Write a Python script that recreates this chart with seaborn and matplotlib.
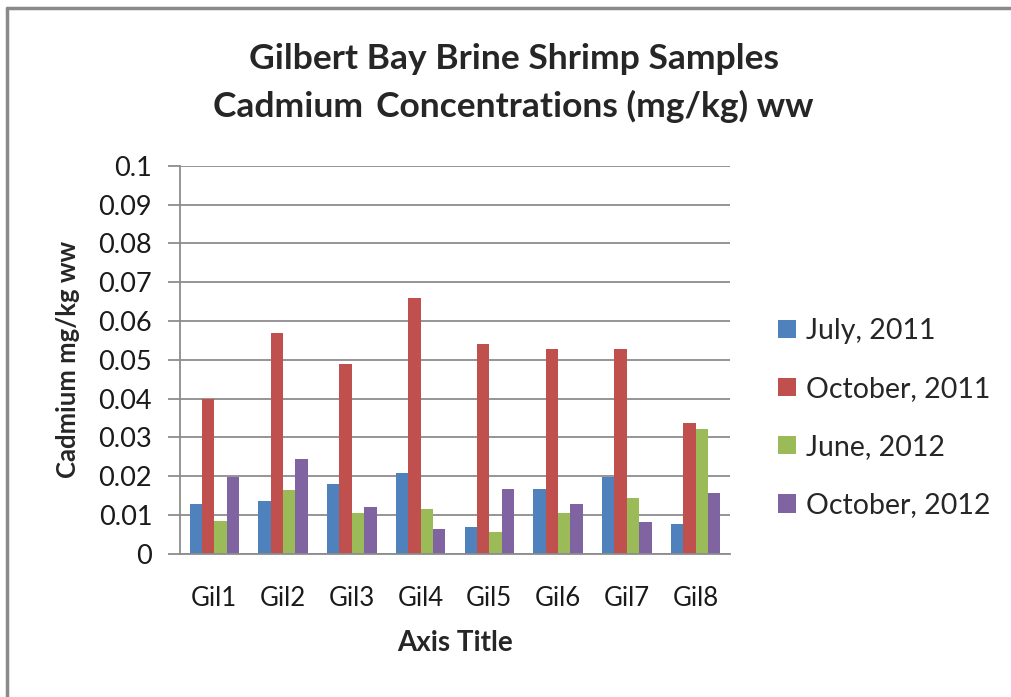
import numpy as np
import pandas as pd
import matplotlib
matplotlib.use('Agg')
import matplotlib.pyplot as plt
from matplotlib.lines import Line2D
import seaborn as sns

# ─── Data ────────────────────────────────────────────────────────────────
SITES = ['Gil1', 'Gil2', 'Gil3', 'Gil4', 'Gil5', 'Gil6', 'Gil7', 'Gil8']
SERIES = ['July, 2011', 'October, 2011', 'June, 2012', 'October, 2012']
july_2011 = [0.0128, 0.0137, 0.0180, 0.0208, 0.0069, 0.0168, 0.0199, 0.0077]
october_2011 = [0.0400, 0.0568, 0.0489, 0.0658, 0.0540, 0.0528, 0.0528, 0.0338]
june_2012 = [0.0085, 0.0165, 0.0105, 0.0117, 0.0057, 0.0105, 0.0144, 0.0323]
october_2012 = [0.0199, 0.0244, 0.0121, 0.0065, 0.0168, 0.0129, 0.0082, 0.0157]
Y_TICKS = [0, 0.01, 0.02, 0.03, 0.04, 0.05, 0.06, 0.07, 0.08, 0.09, 0.1]
COLORS = ['#4F81BD', '#C0504D', '#9BBB59', '#8064A2']

rows = []
for name, vals in zip(SERIES, [july_2011, october_2011, june_2012, october_2012]):
    for site, v in zip(SITES, vals):
        rows.append({'site': site, 'series': name, 'value': v})
df = pd.DataFrame(rows)

sns.set_style('white')
plt.rcParams['font.family'] = ['Lato', 'DejaVu Sans']

fig = plt.figure(figsize=(10.11, 6.97), dpi=100)
ax = fig.add_axes([0.178, 0.2052, 0.544, 0.5571])

sns.barplot(data=df, x='site', y='value', hue='series', hue_order=SERIES,
            order=SITES, palette=COLORS, width=0.72, saturation=1,
            linewidth=0, ax=ax, legend=True)

ax.set_ylim(0, 0.1)
ax.set_xlim(-0.5, len(SITES) - 0.5)
ax.set_yticks(Y_TICKS)
ax.set_yticklabels(['0' if t == 0 else f'{t:g}' for t in Y_TICKS],
                   fontsize=19.5, color='#1a1a1a')
ax.set_xticklabels(SITES, fontsize=18.5, color='#1a1a1a')

ax.yaxis.grid(True, color='#8c8c8c', linewidth=1.3)
ax.set_axisbelow(True)
for side in ['top', 'right']:
    ax.spines[side].set_visible(False)
for side in ['left', 'bottom']:
    ax.spines[side].set_color('#8c8c8c')
    ax.spines[side].set_linewidth(1.3)
ax.tick_params(axis='y', direction='out', length=9, width=1.3,
               color='#8c8c8c', left=True, pad=11)
ax.tick_params(axis='x', length=0, pad=23)

ax.set_xlabel('Axis Title', fontsize=20, fontweight='bold', labelpad=14)
ax.set_ylabel('Cadmium mg/kg ww', fontsize=18.5, fontweight='bold', labelpad=13)

fig.text(0.508, 0.915, 'Gilbert Bay Brine Shrimp Samples',
         ha='center', va='center', fontsize=25.5, fontweight='bold')
fig.text(0.508, 0.848, 'Cadmium \u2009Concentrations (mg/kg) ww',
         ha='center', va='center', fontsize=25.5, fontweight='bold')

handles, labels = ax.get_legend_handles_labels()
ax.legend(handles, labels, loc='center left', bbox_to_anchor=(0.770, 0.400),
          bbox_transform=fig.transFigure, frameon=False, fontsize=20.5,
          handlelength=0.62, handleheight=0.62, handletextpad=0.35,
          labelspacing=1.13, borderaxespad=0, borderpad=0)

# chart frame (left and top edges visible)
fig.add_artist(Line2D([0.0065, 0.0065], [0, 0.9885], transform=fig.transFigure,
                      color='#8a8a8a', linewidth=2.5))
fig.add_artist(Line2D([0.0065, 1.0], [0.9885, 0.9885], transform=fig.transFigure,
                      color='#8a8a8a', linewidth=2.5))

plt.savefig('out.png', dpi=100)
plt.close()
